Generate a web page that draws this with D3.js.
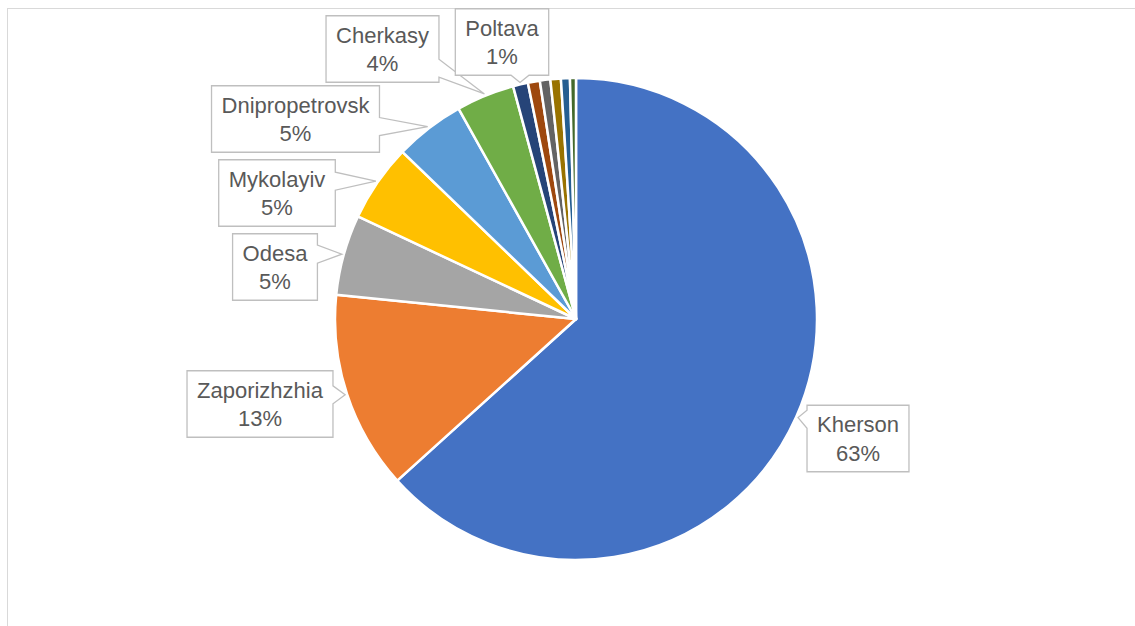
<!DOCTYPE html>
<html>
<head>
<meta charset="utf-8">
<script src="https://cdn.jsdelivr.net/npm/d3@7"></script>
<style>
  body { margin: 0; background: #fff; }
  svg { display: block; }
  .callout text { font-family: 'Liberation Sans', Arial, sans-serif; font-size: 22px; fill: #595959; }
</style>
</head>
<body>
<div id="pie"></div>
<script>
// data (share of total, %)
var regions = ["Kherson", "Zaporizhzhia", "Odesa", "Mykolayiv", "Dnipropetrovsk", "Cherkasy", "Poltava",
               "Other 1", "Other 2", "Other 3", "Other 4", "Other 5"];
var shares = [63.3, 13.3, 5.4, 5.2, 4.7, 3.9, 1.0, 0.8, 0.7, 0.7, 0.6, 0.4];
var labelled = ["Kherson", "Zaporizhzhia", "Odesa", "Mykolayiv", "Dnipropetrovsk", "Cherkasy", "Poltava"];

// office palette
var palette = ["#4472C4", "#ED7D31", "#A5A5A5", "#FFC000", "#5B9BD5", "#70AD47",
               "#264478", "#9E480E", "#636363", "#997300", "#255E91", "#43682B"];

// callout box centres (layout only)
var calloutCentres = {
  "Kherson": [858, 438.5],
  "Zaporizhzhia": [260, 404],
  "Odesa": [275, 267],
  "Mykolayiv": [277, 193],
  "Dnipropetrovsk": [295.5, 119],
  "Cherkasy": [382.5, 49],
  "Poltava": [502, 42]
};

var width = 1135, height = 626;
var cx = 576, cy = 319, radius = 241;

var svg = d3.select("#pie")
            .append("svg")
            .attr("width", width)
            .attr("height", height);

// chart area border (only top and left visible in the crop)
svg.append("rect")
   .attr("x", 7.5).attr("y", 8.5)
   .attr("width", 1400).attr("height", 900)
   .attr("fill", "none")
   .attr("stroke", "#d9d9d9")
   .attr("stroke-width", 1);

var data = regions.map(function(r, i){ return {name: r, value: shares[i], idx: i}; });

var pie = d3.pie()
            .sort(null)
            .value(function(d){ return d.value; });
var arcs = pie(data);

var arcGen = d3.arc().innerRadius(0).outerRadius(radius);
var tipArc = d3.arc().innerRadius(radius + 2).outerRadius(radius + 2);

var g = svg.append("g")
           .attr("transform", "translate(" + cx + "," + cy + ")");

g.selectAll("path.slice")
 .data(arcs)
 .enter().append("path")
   .attr("class", "slice")
   .attr("d", arcGen)
   .attr("fill", function(d){ return palette[d.data.idx % palette.length]; })
   .attr("stroke", "#fff")
   .attr("stroke-width", 2.5)
   .attr("stroke-linejoin", "round");

// callouts
var total = d3.sum(shares);
var fmt = function(v){ return Math.round(v / total * 100) + "%"; };
var boxH = 66.5, pad = 10, lineGap = 28.4;

var callouts = svg.append("g").attr("class", "callout");

arcs.filter(function(d){ return labelled.indexOf(d.data.name) >= 0; })
    .forEach(function(d){
      var c = calloutCentres[d.data.name];
      var t = tipArc.centroid(d);
      var tip = [t[0] + cx, t[1] + cy];

      var grp = callouts.append("g");
      var shape = grp.append("path");

      var t1 = grp.append("text")
        .attr("x", c[0]).attr("y", c[1] - lineGap / 2 + 8)
        .attr("text-anchor", "middle")
        .text(d.data.name);
      var t2 = grp.append("text")
        .attr("x", c[0]).attr("y", c[1] - lineGap / 2 + 8 + lineGap)
        .attr("text-anchor", "middle")
        .text(fmt(d.data.value));

      var w = Math.max(t1.node().getComputedTextLength(), t2.node().getComputedTextLength()) + 2 * pad;
      var x0 = c[0] - w / 2, x1 = c[0] + w / 2, y0 = c[1] - boxH / 2, y1 = c[1] + boxH / 2;
      var half = 9, m = 14;
      var pts;
      if (tip[0] < x0) {
        var yc = Math.max(y0 + m, Math.min(y1 - m, tip[1]));
        pts = [[x0, y0], [x1, y0], [x1, y1], [x0, y1], [x0, yc + half], tip, [x0, yc - half]];
      } else if (tip[0] > x1) {
        var yc2 = Math.max(y0 + m, Math.min(y1 - m, tip[1]));
        pts = [[x0, y0], [x1, y0], [x1, yc2 - half], tip, [x1, yc2 + half], [x1, y1], [x0, y1]];
      } else {
        var xc = Math.max(x0 + m, Math.min(x1 - m, tip[0]));
        pts = [[x0, y0], [x1, y0], [x1, y1], [xc + half, y1], tip, [xc - half, y1], [x0, y1]];
      }
      shape.attr("d", d3.line()(pts) + "Z")
           .attr("fill", "#fff")
           .attr("stroke", "#bfbfbf")
           .attr("stroke-width", 1.3);
    });
</script>
</body>
</html>
